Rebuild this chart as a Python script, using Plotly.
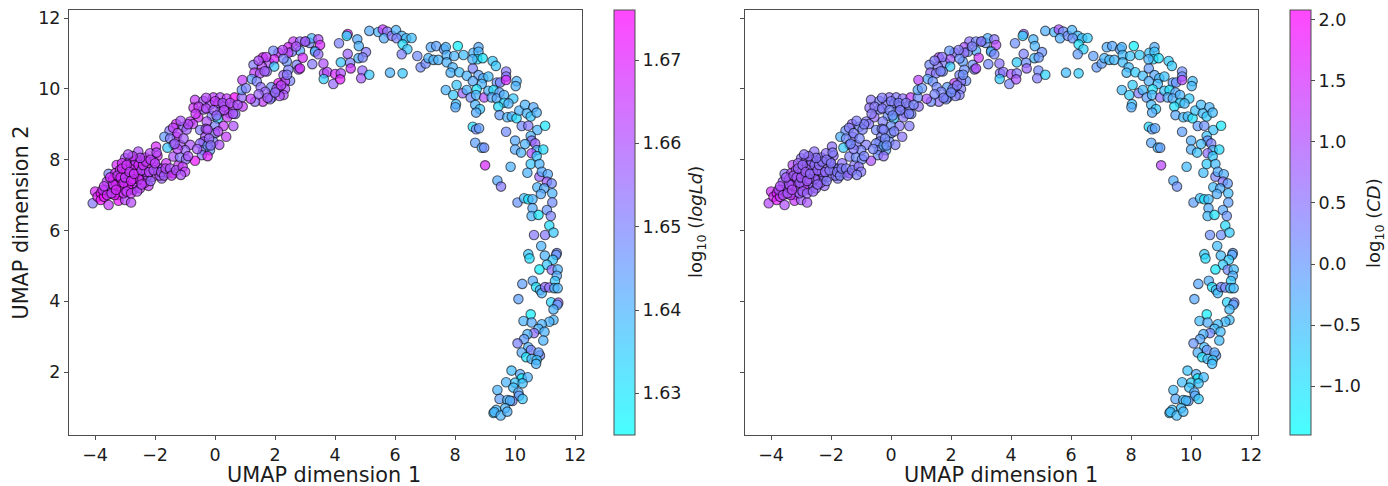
import plotly.graph_objects as go
from plotly.subplots import make_subplots

# ---- values, by region of the curve ----
left_x = [-4.08,-4.00,-3.92,-3.81,-3.81,-3.70,-3.55,-3.50,-3.44,-3.61,
          -3.55,-3.28,-3.33,-3.17,-3.22,-3.22,-3.22,-3.11,-3.00,-3.00,
          -3.00,-2.94,-2.89,-2.80,-2.78,-2.72,-2.67,-2.67,-2.61,-2.56,
          -2.50,-2.50,-2.44,-2.41,-2.33,-2.22,-2.22,-2.17,-2.08,-1.97,
          -1.94,-1.92,-1.89,-1.78,-3.40,-3.05,-2.85,-2.60,-2.35,-2.05,
          -3.15,-2.95,-2.70,-2.45,-2.25,-1.75,-1.63,-1.56,-1.39,-1.22,
          -3.35,-3.10,-2.90,-2.55,-2.30,-3.65,-3.30,-2.75,-2.15,-1.85,
          -3.75,-3.60,-3.45,-3.40,-3.50,-3.25,-3.15,-3.05,-3.00,-3.10,
          -2.95,-2.85,-2.80,-2.70,-2.65,-2.55,-2.45,-2.40,-2.30,-2.20,
          -2.15,-2.05,-2.00,-1.95,-1.80,-1.70,-1.65,-1.50,-1.45,-1.30,
          -3.05,-2.95,-2.80,-2.60,-2.45,-3.70,-3.30,-2.50,-2.75,-2.90]
left_y = [6.77,7.10,6.95,7.05,6.86,6.95,6.72,7.03,7.19,7.38,
          7.60,7.85,7.62,7.71,7.41,7.00,6.84,7.43,7.15,6.86,
          8.04,7.38,7.52,6.79,7.80,7.15,7.57,7.33,8.01,8.23,
          7.79,7.19,7.57,7.43,8.06,7.80,7.26,8.18,7.52,8.37,
          7.79,8.11,7.66,7.47,7.45,7.60,7.95,7.70,7.35,7.95,
          7.25,7.70,7.85,7.95,7.55,7.75,7.90,7.63,7.62,7.85,
          7.00,7.90,7.25,7.45,7.65,7.15,7.30,7.45,7.40,7.55,
          7.15,7.00,7.05,7.30,7.50,7.55,7.50,7.35,7.50,7.75,
          7.85,7.65,7.40,7.60,7.95,7.85,7.70,7.85,7.95,7.65,
          8.00,7.70,7.90,8.20,7.65,7.55,7.75,7.75,7.55,7.70,
          7.05,7.10,7.05,7.10,7.30,7.25,7.15,8.05,8.10,8.15]
left_ld = [1.652,1.668,1.670,1.672,1.674,1.671,1.664,1.664,1.668,1.662,
           1.650,1.668,1.668,1.666,1.668,1.664,1.672,1.670,1.667,1.662,
           1.660,1.670,1.668,1.662,1.670,1.668,1.670,1.664,1.664,1.660,
           1.668,1.663,1.668,1.662,1.668,1.670,1.664,1.662,1.665,1.668,
           1.658,1.668,1.662,1.658,1.672,1.670,1.666,1.670,1.668,1.660,
           1.672,1.670,1.668,1.672,1.662,1.660,1.666,1.664,1.675,1.664,
           1.671,1.668,1.672,1.667,1.664,1.660,1.672,1.668,1.656,1.660,
           1.666,1.668,1.664,1.666,1.668,1.664,1.668,1.666,1.664,1.668,
           1.666,1.664,1.668,1.666,1.664,1.668,1.662,1.666,1.664,1.662,
           1.664,1.660,1.664,1.662,1.660,1.658,1.662,1.660,1.664,1.660,
           1.666,1.664,1.666,1.662,1.664,1.664,1.668,1.662,1.664,1.660]
left_cd = [1.10,1.45,1.50,1.60,1.70,1.30,1.00,0.95,1.10,0.80,
           0.50,1.10,1.10,0.90,1.00,0.95,1.35,1.05,0.90,0.80,
           0.60,1.05,0.90,0.90,0.95,0.90,0.90,0.70,0.60,0.55,
           0.70,0.70,0.80,0.60,0.60,0.80,0.65,0.55,0.60,0.55,
           0.35,0.60,0.50,0.40,1.05,1.00,0.75,0.85,0.80,0.45,
           1.15,0.95,0.75,0.85,0.60,0.40,0.55,0.50,1.40,0.45,
           1.20,0.75,1.20,0.80,0.60,0.90,1.20,0.85,0.40,0.45,
           1.10,1.05,0.95,0.90,0.85,0.80,0.90,0.75,0.85,0.75,
           0.70,0.80,0.85,0.65,0.60,0.55,0.70,0.55,0.50,0.60,
           0.50,0.45,0.45,0.40,0.40,0.35,0.40,0.35,0.45,0.40,
           0.85,0.80,0.75,0.70,0.65,1.00,1.05,0.50,0.60,0.55]

mid_x = [-0.06,0.17,0.39,0.65,-0.67,-0.39,-0.17,0.11,0.61,0.89,
         0.92,-0.72,-0.39,0.17,0.48,0.67,-0.56,-0.11,-0.83,-1.30,
         -0.74,-0.28,0.09,0.41,-1.06,0.00,0.28,0.61,-0.50,-0.31,
         -1.52,-1.28,-1.69,-1.50,-0.33,0.00,0.37,-0.39,-0.06,-1.39,
         -1.59,-1.17,-0.83,-0.50,0.14,-1.00,-0.39,-0.17,-0.44,-0.25,
         -1.39,-1.17,-0.97,-0.67,-1.08,-1.00,-1.14,-0.25,0.30,-0.95,
         -0.30,0.00,0.25,0.50,0.75,-0.55,-0.30,-0.05,0.30,-0.65,
         0.05,0.60,-0.90,-1.15,-1.40,-1.25,-1.05,-0.25,0.10,-0.20,
         -0.15,-1.25,-0.90,-0.60,-1.35]
mid_y = [9.76,9.76,9.73,9.76,9.69,9.66,9.55,9.59,9.50,9.76,
         9.50,9.47,9.42,9.36,9.31,9.29,9.20,9.24,9.08,9.01,
         9.01,9.08,9.16,9.20,8.93,8.95,8.95,8.95,8.84,8.87,
         8.82,8.65,8.65,8.60,8.65,8.75,8.65,8.51,8.51,8.42,
         8.34,8.42,8.42,8.46,8.42,8.27,8.27,8.27,8.13,8.10,
         8.09,8.07,8.01,7.97,7.80,7.66,7.57,8.40,9.50,8.85,
         9.75,9.65,9.60,9.60,9.55,9.50,9.45,9.40,9.40,9.30,
         9.25,9.30,9.00,9.10,8.90,8.75,8.60,8.85,8.80,8.60,
         8.40,8.30,8.10,8.30,8.45]
mid_ld = [1.664,1.662,1.664,1.674,1.664,1.658,1.660,1.662,1.662,1.655,
          1.664,1.666,1.656,1.654,1.664,1.652,1.668,1.652,1.664,1.668,
          1.664,1.660,1.634,1.664,1.654,1.650,1.664,1.660,1.652,1.660,
          1.652,1.668,1.645,1.652,1.660,1.652,1.664,1.658,1.650,1.660,
          1.636,1.660,1.660,1.654,1.660,1.656,1.652,1.644,1.652,1.670,
          1.660,1.652,1.654,1.672,1.664,1.664,1.660,1.646,1.664,1.658,
          1.662,1.664,1.660,1.662,1.660,1.664,1.662,1.658,1.662,1.666,
          1.656,1.660,1.662,1.660,1.664,1.662,1.658,1.660,1.662,1.656,
          1.654,1.662,1.660,1.658,1.656]
mid_cd = [0.55,0.40,0.55,1.20,0.50,0.30,0.40,0.40,0.45,0.15,
          0.55,0.55,0.30,0.15,0.40,0.20,0.65,0.10,0.45,0.65,
          0.45,0.35,-0.70,0.45,0.20,0.10,0.45,0.40,0.20,0.35,
          0.10,0.55,-0.30,0.15,0.35,0.10,0.50,0.30,0.10,0.40,
          -0.70,0.40,0.40,0.20,0.35,0.25,0.20,-0.20,0.15,0.60,
          0.35,0.15,0.20,0.95,0.50,0.45,0.35,-0.20,0.45,0.30,
          0.40,0.35,0.30,0.35,0.25,0.45,0.40,0.25,0.35,0.45,
          0.20,0.30,0.35,0.35,0.40,0.35,0.25,0.30,0.30,0.20,
          0.15,0.40,0.30,0.25,0.20]

ring_x = [2.61,2.83,3.03,2.44,2.11,1.94,2.83,2.56,2.44,3.34,
          1.59,1.80,1.97,2.39,2.28,1.97,1.28,1.56,1.31,1.50,
          1.72,2.44,2.72,2.78,2.28,2.50,1.22,1.39,2.33,2.11,
          1.87,1.52,2.33,2.11,2.28,1.67,1.89,2.15,1.59,1.33,
          1.19,1.83,0.91,0.89,1.03,2.70,3.15,2.25,1.70,1.45,
          1.65,2.05,2.20,1.45,1.75,2.00,2.40]
ring_y = [11.34,11.34,11.34,11.18,11.02,11.08,11.08,11.05,11.02,11.08,
          10.89,10.74,10.84,10.77,10.86,10.63,10.68,10.63,10.46,10.44,
          10.49,10.54,10.68,10.55,10.39,10.23,10.28,10.21,10.21,10.16,
          10.05,10.05,10.00,9.97,9.83,9.92,9.76,9.80,9.64,9.64,
          9.72,9.71,10.25,9.97,10.02,11.20,11.30,11.10,10.90,10.80,
          10.50,10.00,10.10,9.85,9.75,9.90,10.40]
ring_ld = [1.664,1.655,1.654,1.668,1.664,1.648,1.642,1.650,1.664,1.642,
           1.670,1.660,1.668,1.646,1.650,1.636,1.652,1.662,1.664,1.660,
           1.654,1.650,1.650,1.656,1.656,1.650,1.644,1.650,1.664,1.672,
           1.648,1.654,1.660,1.664,1.660,1.656,1.656,1.660,1.664,1.654,
           1.664,1.652,1.664,1.646,1.650,1.660,1.650,1.662,1.664,1.660,
           1.658,1.660,1.662,1.656,1.658,1.654,1.652]
ring_cd = [0.55,0.20,0.15,0.90,0.50,0.00,-0.30,0.10,0.60,-0.30,
           1.10,0.40,0.85,-0.10,0.10,-0.70,0.20,0.45,0.60,0.40,
           0.15,0.10,0.10,0.25,0.25,0.10,-0.20,0.10,0.50,1.20,
           -0.10,0.20,0.35,0.60,0.35,0.25,0.20,0.35,0.55,0.15,
           0.90,0.20,1.15,-0.20,0.00,0.35,0.05,0.40,0.50,0.40,
           0.30,0.35,0.40,0.25,0.30,0.15,0.10]

arch_x = [3.22,3.44,3.00,3.50,3.33,3.44,2.92,3.24,3.61,2.83,
          4.13,4.42,4.39,4.74,4.79,4.42,5.03,4.19,4.50,4.52,
          4.78,4.92,3.63,3.74,4.00,4.19,3.62,3.94,4.17,4.91,
          4.87,5.14,5.83,6.25,5.14,5.44,5.59,5.74,5.63,5.89,
          6.03,6.22,6.05,6.37,6.55,6.25,6.41,6.22,6.74,6.85,
          7.02,7.11,7.19,7.37,7.28,7.44,7.63,7.69,7.72,7.72,
          7.97,8.09,8.28,7.92,7.85,8.14,8.39,8.59,8.61,8.78,
          8.78,8.74,8.92,8.58,9.25,9.36,8.78,8.94,9.11,8.89,
          8.59,8.05,7.69,7.94,8.03,8.01,8.25,8.39,8.52,8.72,
          8.70,8.97,8.67,8.83,8.70,9.39,9.50,9.70,9.70,9.70,
          10.05,10.02,9.11,9.28,9.48,9.22,9.39,9.63,9.63,9.94,
          9.78,9.44,9.48,9.74,9.89,10.05,10.14,10.33,10.61,10.39,
          10.52,10.72,10.22,10.44,10.74,11.00,10.52,10.55,10.00,10.33,
          10.00,10.20,10.67,10.72,10.94,10.55,10.72,9.85,9.00,8.59,
          8.70,8.80,9.70,8.67,8.89,8.97,9.41,9.53]
arch_y = [11.43,11.40,11.34,11.24,11.05,10.98,10.88,10.70,10.72,10.58,
          11.29,11.55,11.50,11.40,11.21,10.99,11.04,10.75,10.74,10.58,
          10.87,10.89,10.44,10.48,10.42,10.44,10.28,10.14,10.27,10.52,
          10.30,10.40,10.46,10.44,11.64,11.61,11.68,11.62,11.43,11.50,
          11.66,11.50,11.43,11.43,11.44,11.26,11.12,10.98,10.93,10.61,
          10.72,10.87,11.18,11.21,10.82,10.82,11.12,11.18,10.96,10.75,
          10.93,11.21,10.96,10.61,10.46,10.47,10.37,10.58,11.02,11.18,
          11.05,10.84,10.87,10.84,10.79,10.65,10.39,10.30,10.35,10.14,
          10.22,10.11,9.97,9.83,9.57,9.48,9.88,9.97,9.76,9.99,
          9.83,9.76,9.55,9.43,9.33,10.18,10.18,10.49,10.35,10.25,
          10.22,10.08,9.95,9.97,9.90,9.76,9.73,9.83,9.61,9.73,
          9.59,9.50,9.26,9.20,9.22,9.17,9.39,9.55,9.48,9.31,
          9.22,9.33,8.95,8.96,8.84,8.96,8.67,8.54,8.54,8.44,
          8.29,8.20,8.46,8.27,8.29,8.18,8.10,7.80,7.84,8.93,
          8.86,8.89,8.79,8.48,8.34,8.34,7.41,7.24]
arch_ld = [1.640,1.660,1.658,1.668,1.642,1.655,1.668,1.652,1.660,1.668,
           1.650,1.670,1.632,1.642,1.640,1.656,1.652,1.636,1.650,1.666,
           1.640,1.650,1.660,1.662,1.668,1.660,1.635,1.655,1.670,1.655,
           1.658,1.636,1.640,1.636,1.642,1.640,1.664,1.652,1.642,1.652,
           1.640,1.640,1.650,1.638,1.638,1.632,1.636,1.650,1.648,1.648,
           1.648,1.640,1.642,1.644,1.640,1.640,1.645,1.640,1.640,1.640,
           1.640,1.628,1.638,1.640,1.640,1.638,1.640,1.650,1.640,1.642,
           1.640,1.632,1.630,1.640,1.636,1.636,1.644,1.640,1.638,1.640,
           1.642,1.636,1.640,1.636,1.638,1.642,1.656,1.640,1.648,1.630,
           1.640,1.660,1.640,1.636,1.642,1.646,1.650,1.652,1.652,1.668,
           1.640,1.640,1.640,1.632,1.644,1.642,1.642,1.640,1.634,1.636,
           1.640,1.632,1.645,1.640,1.640,1.632,1.640,1.640,1.642,1.640,
           1.636,1.640,1.648,1.652,1.640,1.630,1.640,1.652,1.642,1.640,
           1.642,1.640,1.656,1.640,1.632,1.660,1.636,1.640,1.668,1.632,
           1.648,1.644,1.648,1.644,1.640,1.648,1.642,1.652]
arch_cd = [-0.30,0.50,0.45,1.10,-0.30,0.25,1.30,0.20,0.50,1.10,
           0.10,0.90,-0.80,-0.40,-0.40,0.30,0.10,-0.70,0.10,0.70,
           -0.50,0.05,0.45,0.50,0.90,0.45,-0.70,0.25,0.95,0.20,
           0.40,-0.80,-0.50,-0.70,-0.30,-0.40,0.95,0.10,-0.30,0.10,
           -0.40,-0.50,0.05,-0.60,-0.70,-1.00,-0.80,-0.05,-0.10,-0.05,
           -0.10,-0.45,-0.30,-0.20,-0.50,-0.45,-0.20,-0.40,-0.50,-0.50,
           -0.60,-1.20,-0.70,-0.50,-0.50,-0.70,-0.50,-0.05,-0.60,-0.30,
           -0.60,-0.90,-1.00,-0.40,-0.70,-0.70,-0.20,-0.50,-0.60,-0.50,
           -0.30,-0.70,-0.50,-0.70,-0.60,-0.30,0.35,-0.50,-0.10,-1.00,
           -0.50,0.50,-0.50,-0.70,-0.30,-0.10,0.05,0.15,0.10,1.10,
           -0.50,-0.50,-0.60,-1.00,-0.20,-0.30,-0.30,-0.40,-0.80,-0.70,
           -0.50,-1.00,-0.20,-0.50,-0.50,-1.00,-0.60,-0.50,-0.40,-0.50,
           -0.70,-0.50,-0.10,0.10,-0.60,-1.10,-0.60,0.05,-0.30,-0.50,
           -0.30,-0.60,0.30,-0.40,-0.90,0.55,-0.70,-0.50,1.15,-0.90,
           -0.10,-0.20,-0.10,-0.20,-0.50,-0.10,-0.30,0.10]

tail_x = [10.52,10.81,10.41,10.81,10.89,11.09,11.06,11.22,10.74,10.97,
          10.86,11.24,11.24,10.08,10.30,10.44,10.58,10.58,10.55,10.78,
          11.06,11.19,11.14,10.63,11.00,11.28,10.87,11.39,11.37,10.44,
          10.48,10.99,11.26,11.06,10.81,11.22,11.42,11.39,11.33,10.59,
          10.24,10.70,10.83,10.89,11.00,11.14,11.31,11.42,10.11,11.20,
          11.44,11.41,11.28,10.52,10.28,10.55,11.28,11.14,10.89,10.78,
          10.63,10.41,10.98,10.94,10.30,10.08,10.44,10.53,10.22,10.83,
          10.78,10.37,10.55,10.72,10.70,9.88,10.17,10.22,10.42,10.00,
          9.70,10.25,9.41,9.94,10.11,10.13,9.48,9.74,9.91,10.25,
          9.83,9.67,9.37,9.28,9.31,9.52,9.74]
tail_y = [7.88,7.88,7.63,7.52,7.66,7.59,7.38,7.33,7.22,7.19,
          7.03,7.05,6.79,6.79,6.91,6.88,6.88,6.63,6.41,6.44,
          6.58,6.41,6.14,5.87,5.87,5.94,5.56,5.36,5.31,5.33,
          5.21,5.29,5.17,5.03,4.90,4.89,4.90,4.72,4.57,4.58,
          4.49,4.40,4.32,4.23,4.40,4.39,4.37,4.37,4.06,3.97,
          3.96,3.90,3.77,3.63,3.44,3.40,3.47,3.42,3.35,3.22,
          3.10,3.07,3.14,2.89,2.93,2.81,2.70,2.62,2.55,2.47,
          2.55,2.42,2.37,2.34,2.23,2.04,1.94,1.82,1.85,1.70,
          1.71,1.68,1.49,1.56,1.42,1.33,1.24,1.21,1.18,1.24,
          1.19,0.98,0.93,0.84,0.87,0.77,0.88]
tail_ld = [1.636,1.640,1.640,1.656,1.642,1.642,1.658,1.648,1.640,1.642,
           1.642,1.640,1.648,1.646,1.638,1.630,1.640,1.642,1.640,1.630,
           1.646,1.650,1.632,1.652,1.652,1.636,1.640,1.648,1.646,1.636,
           1.632,1.640,1.636,1.636,1.628,1.654,1.640,1.642,1.636,1.642,
           1.644,1.630,1.640,1.640,1.654,1.654,1.638,1.640,1.644,1.634,
           1.656,1.644,1.640,1.628,1.640,1.642,1.640,1.640,1.640,1.640,
           1.654,1.640,1.640,1.640,1.644,1.650,1.640,1.650,1.642,1.648,
           1.644,1.630,1.640,1.636,1.640,1.638,1.642,1.628,1.640,1.636,
           1.640,1.638,1.640,1.638,1.642,1.644,1.644,1.640,1.648,1.636,
           1.640,1.640,1.638,1.636,1.640,1.640,1.640]
tail_cd = [-0.70,-0.50,-0.50,0.30,-0.30,-0.30,0.50,-0.10,-0.50,-0.30,
           -0.30,-0.50,-0.10,-0.10,-0.60,-1.00,-0.50,-0.30,-0.50,-1.00,
           -0.20,0.05,-0.90,0.10,0.10,-0.70,-0.50,-0.10,-0.20,-0.70,
           -0.90,-0.50,-0.70,-0.70,-1.10,0.20,-0.50,-0.30,-0.70,-0.30,
           -0.20,-1.00,-0.50,-0.50,0.20,0.20,-0.60,-0.50,-0.20,-0.80,
           0.30,-0.20,-0.50,-1.20,-0.50,-0.30,-0.50,-0.50,-0.50,-0.50,
           0.20,-0.40,-0.50,-0.50,-0.20,0.05,-0.50,0.05,-0.30,-0.10,
           -0.20,-1.00,-0.50,-0.70,-0.50,-0.60,-0.30,-1.20,-0.50,-0.70,
           -0.50,-0.60,-0.50,-0.60,-0.30,-0.20,-0.20,-0.50,-0.10,-0.70,
           -0.50,-0.50,-0.60,-0.70,-0.50,-0.50,-0.50]

umap_x = left_x + mid_x + ring_x + arch_x + tail_x
umap_y = left_y + mid_y + ring_y + arch_y + tail_y
log_ld = left_ld + mid_ld + ring_ld + arch_ld + tail_ld
log_cd = left_cd + mid_cd + ring_cd + arch_cd + tail_cd
print(len(umap_x), len(umap_y), len(log_ld), len(log_cd))

x_ticks = [-4, -2, 0, 2, 4, 6, 8, 10, 12]
y_ticks = [2, 4, 6, 8, 10, 12]
ld_ticks = [1.63, 1.64, 1.65, 1.66, 1.67]
cd_ticks = [-1.0, -0.5, 0.0, 0.5, 1.0, 1.5, 2.0]

# ---- styling ----
W, H = 1388, 486
TEXT = "#1c1c1c"
LINE = "#4d4d4d"
COOL = [[0, "rgba(0,255,255,0.72)"], [1, "rgba(255,0,255,0.72)"]]
FONT = "DejaVu Sans"

fig = make_subplots(rows=1, cols=2)


def scatter(col, values, cmin, cmax, ticks, fmt, bar_left):
    fig.add_trace(go.Scatter(
        x=umap_x, y=umap_y, mode="markers", showlegend=False,
        marker=dict(
            size=9.5, color=values, cmin=cmin, cmax=cmax, colorscale=COOL,
            line=dict(color="rgba(0,0,0,0.6)", width=1.1),
            colorbar=dict(
                x=bar_left / W, xanchor="left", xpad=0, ypad=0,
                y=(H - 435) / H, yanchor="bottom",
                len=425, lenmode="pixels", thickness=21, thicknessmode="pixels",
                outlinecolor=LINE, outlinewidth=1,
                ticks="outside", ticklen=4, tickwidth=1, tickcolor=LINE,
                tickvals=ticks, tickformat=fmt,
                tickfont=dict(family=FONT, size=17.5, color=TEXT),
            ),
        ),
    ), row=1, col=col)


scatter(1, log_ld, 1.625, 1.676, ld_ticks, ".2f", 614)
scatter(2, log_cd, -1.4, 2.08, cd_ticks, ".1f", 1290)

axis = dict(
    showgrid=False, zeroline=False, showline=True, mirror=True,
    linecolor=LINE, linewidth=1, ticks="outside", ticklen=4, tickwidth=1,
    tickcolor=LINE, tickfont=dict(family=FONT, size=17.5, color=TEXT),
)
xaxis = dict(axis, range=[-4.87, 12.23], tickvals=x_ticks)
yaxis = dict(axis, range=[0.22, 12.23], tickvals=y_ticks)
y_domain = [(H - 435) / H, (H - 10) / H]
title_font = dict(family=FONT, size=20.8, color=TEXT)
label_common = dict(xref="paper", yref="paper", showarrow=False,
                    xanchor="center", yanchor="middle")
fig.update_layout(
    width=W, height=H, autosize=False,
    margin=dict(l=0, r=0, t=0, b=0),
    paper_bgcolor="white", plot_bgcolor="white",
    font=dict(family=FONT, color=TEXT),
    xaxis=dict(xaxis, domain=[69 / W, 582 / W], automargin=False),
    xaxis2=dict(xaxis, domain=[745 / W, 1258 / W], automargin=False),
    yaxis=dict(yaxis, domain=y_domain, automargin=False,
               title=dict(text="UMAP dimension 2", font=title_font, standoff=3)),
    yaxis2=dict(yaxis, domain=y_domain, showticklabels=False),
    annotations=[
        dict(label_common, text="UMAP dimension 1", x=324 / W, y=1 - 475 / H, font=title_font),
        dict(label_common, text="UMAP dimension 1", x=1001 / W, y=1 - 475 / H, font=title_font),
        dict(label_common, text="log<sub>10</sub> (<i>logLd</i>)", x=697 / W, y=1 - 222 / H,
             textangle=-90, font=dict(family=FONT, size=18, color=TEXT)),
        dict(label_common, text="log<sub>10</sub> (<i>CD</i>)", x=1375 / W, y=1 - 223 / H,
             textangle=-90, font=dict(family=FONT, size=18, color=TEXT)),
    ],
)

fig.write_html("out.html", config={"displayModeBar": False},
               post_script="document.body.style.margin='0';document.body.style.overflow='hidden';")
